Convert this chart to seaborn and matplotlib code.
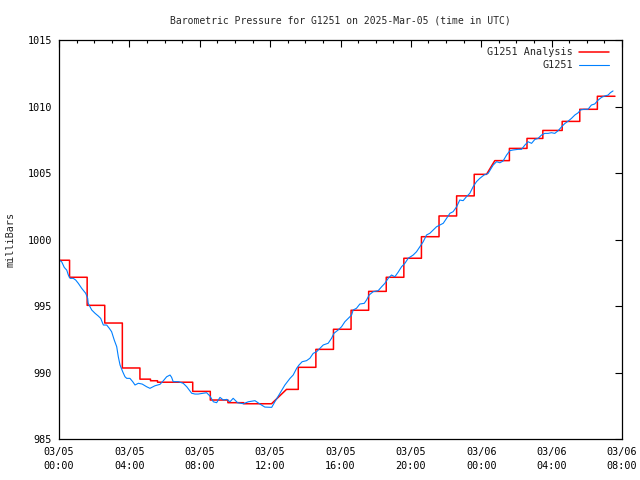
import pandas as pd
import matplotlib
matplotlib.use("Agg")
import matplotlib.pyplot as plt
import matplotlib.dates as mdates
import seaborn as sns

# G1251 station readings: hours after 2025-03-05 00:00 UTC, pressure in mb
obs_hours = [0.00, 0.15, 0.30, 0.44, 0.53, 0.63, 0.81, 0.95, 1.10, 1.29, 1.52, 1.63,
             1.66, 1.76, 1.86, 2.05, 2.23, 2.37, 2.52, 2.71, 2.86, 2.99, 3.14, 3.28,
             3.37, 3.47, 3.62, 3.75, 3.85, 4.03, 4.19, 4.32, 4.51, 4.73, 4.98, 5.17,
             5.45, 5.74, 5.93, 6.12, 6.31, 6.40, 6.49, 6.78, 7.06, 7.26, 7.54, 7.73,
             7.91, 8.20, 8.39, 8.58, 8.77, 8.96, 9.15, 9.34, 9.53, 9.72, 9.90, 10.15,
             10.47, 10.76, 11.14, 11.42, 11.70, 12.09, 12.27, 12.56, 12.84, 13.13, 13.31, 13.51,
             13.64, 13.82, 14.07, 14.26, 14.45, 14.64, 14.83, 15.02, 15.30, 15.49, 15.63, 15.87,
             16.06, 16.25, 16.44, 16.63, 16.72, 16.91, 17.10, 17.35, 17.48, 17.63, 17.86, 18.14,
             18.34, 18.52, 18.71, 18.90, 19.09, 19.28, 19.47, 19.66, 19.85, 20.13, 20.32, 20.51,
             20.70, 20.89, 21.08, 21.27, 21.46, 21.65, 21.84, 22.03, 22.22, 22.40, 22.60, 22.78,
             22.97, 23.16, 23.35, 23.54, 23.73, 23.92, 24.16, 24.39, 24.68, 24.87, 25.06, 25.24,
             25.44, 25.63, 25.81, 26.10, 26.29, 26.48, 26.66, 26.86, 27.05, 27.23, 27.43, 27.61,
             27.80, 27.99, 28.18, 28.37, 28.62, 28.75, 28.94, 29.13, 29.32, 29.51, 29.64, 29.83,
             30.07, 30.26, 30.45, 30.65, 30.84, 31.02, 31.21, 31.34, 31.49]
obs_mb = [998.46, 998.33, 997.90, 997.70, 997.33, 997.08, 997.08, 996.95, 996.70, 996.33, 995.95, 995.58,
          995.20, 994.95, 994.70, 994.45, 994.25, 994.07, 993.57, 993.57, 993.32, 993.07, 992.44, 991.94,
          991.19, 990.56, 990.06, 989.68, 989.56, 989.56, 989.31, 989.06, 989.19, 989.13, 988.93, 988.81,
          989.00, 989.11, 989.38, 989.68, 989.81, 989.64, 989.31, 989.31, 989.19, 988.93, 988.44, 988.38,
          988.38, 988.44, 988.48, 988.23, 987.80, 987.73, 988.13, 987.93, 987.98, 987.80, 988.06, 987.73,
          987.65, 987.80, 987.88, 987.63, 987.40, 987.38, 987.80, 988.44, 989.06, 989.56, 989.81, 990.32,
          990.56, 990.81, 990.89, 991.07, 991.44, 991.56, 991.82, 992.07, 992.20, 992.57, 992.95, 993.20,
          993.44, 993.82, 994.07, 994.32, 994.70, 994.83, 995.15, 995.20, 995.45, 995.83, 996.08, 996.15,
          996.45, 996.70, 997.08, 997.33, 997.20, 997.55, 997.95, 998.21, 998.59, 998.83, 999.08, 999.46,
          999.83, 1000.34, 1000.47, 1000.71, 1000.96, 1001.09, 1001.22, 1001.59, 1001.97, 1002.09, 1002.46, 1002.97,
          1002.92, 1003.22, 1003.47, 1003.97, 1004.35, 1004.60, 1004.85, 1004.97, 1005.60, 1005.85, 1005.77, 1005.90,
          1006.35, 1006.68, 1006.73, 1006.78, 1006.78, 1007.10, 1007.35, 1007.23, 1007.53, 1007.60, 1007.86, 1007.98,
          1007.98, 1008.03, 1007.98, 1008.18, 1008.55, 1008.72, 1008.90, 1009.11, 1009.36, 1009.53, 1009.74, 1009.79,
          1009.79, 1010.11, 1010.19, 1010.49, 1010.69, 1010.79, 1010.86, 1011.04, 1011.17]

# analysis: each value holds from its start hour to its end hour
ana_start = [0.0, 0.6, 1.6, 2.6, 3.6, 4.6, 5.2, 5.6, 7.6, 8.6, 9.6, 10.5, 12.93,
             13.6, 14.6, 15.6, 16.6, 17.6, 18.6, 19.6, 20.6, 21.6, 22.6, 23.6, 24.77,
             25.6, 26.6, 27.5, 28.6, 29.6, 30.6]
ana_end = [0.6, 1.6, 2.6, 3.6, 4.6, 5.2, 5.6, 7.6, 8.6, 9.6, 10.5, 12.08, 13.6,
           14.6, 15.6, 16.6, 17.6, 18.6, 19.6, 20.6, 21.6, 22.6, 23.6, 24.3, 25.6,
           26.6, 27.5, 28.6, 29.6, 30.6, 31.6]
ana_mb = [998.44, 997.16, 995.05, 993.72, 990.34, 989.50, 989.38, 989.27, 988.58, 987.93, 987.73, 987.65, 988.73,
          990.39, 991.74, 993.25, 994.68, 996.10, 997.16, 998.59, 1000.21, 1001.77, 1003.28, 1004.90, 1005.93,
          1006.85, 1007.60, 1008.20, 1008.88, 1009.79, 1010.77]

base = pd.Timestamp("2025-03-05 00:00")

obs = pd.DataFrame({"time": base + pd.to_timedelta(obs_hours, unit="h"), "mb": obs_mb})

ana_t, ana_v = [], []
for s, e, v in zip(ana_start, ana_end, ana_mb):
    ana_t += [s, e]
    ana_v += [v, v]
ana = pd.DataFrame({"time": base + pd.to_timedelta(ana_t, unit="h"), "mb": ana_v})

sns.set_style("white")
plt.rcParams["font.family"] = ["DejaVu Sans Mono"]
plt.rcParams["font.size"] = 7.3

fig = plt.figure(figsize=(6.4, 4.8), dpi=100)
ax = fig.add_axes([59 / 640, 41 / 480, 563 / 640, 399 / 480])

sns.lineplot(data=ana, x="time", y="mb", sort=False, estimator=None,
             color="#ff0000", linewidth=1.1, label="G1251 Analysis", ax=ax)
sns.lineplot(data=obs, x="time", y="mb", sort=False, estimator=None,
             color="#0080ff", linewidth=0.8, label="G1251", ax=ax)

ax.set_xlim(base, base + pd.Timedelta(hours=32))
ax.set_ylim(985, 1015)
ax.set_yticks(range(985, 1016, 5))

ax.xaxis.set_major_locator(mdates.HourLocator(byhour=range(0, 24, 4)))
ax.xaxis.set_minor_locator(mdates.HourLocator())
ax.xaxis.set_major_formatter(mdates.DateFormatter("%m/%d\n%H:%M"))

ax.tick_params(which="both", direction="in", top=True, right=True, colors="black")
ax.tick_params(which="major", length=5, width=0.8)
ax.tick_params(which="minor", length=2.5, width=0.8)
ax.tick_params(axis="x", pad=6)
ax.tick_params(axis="y", pad=5)
for sp in ax.spines.values():
    sp.set_color("black")
    sp.set_linewidth(0.9)

ax.set_xlabel("")
ax.set_ylabel("milliBars")
ax.yaxis.set_label_coords(-0.078, 0.5)
ax.set_title("Barometric Pressure for G1251 on 2025-Mar-05 (time in UTC)", fontsize=7, pad=12)

ax.legend(loc="upper right", bbox_to_anchor=(0.99, 1.0), frameon=False, markerfirst=False,
          handlelength=3.0, handletextpad=0.6, labelspacing=0.3, borderaxespad=0.3)

fig.canvas.draw()
for lbl in ax.get_xticklabels():
    lbl.set_linespacing(1.5)

fig.savefig("out.png", dpi=100)
